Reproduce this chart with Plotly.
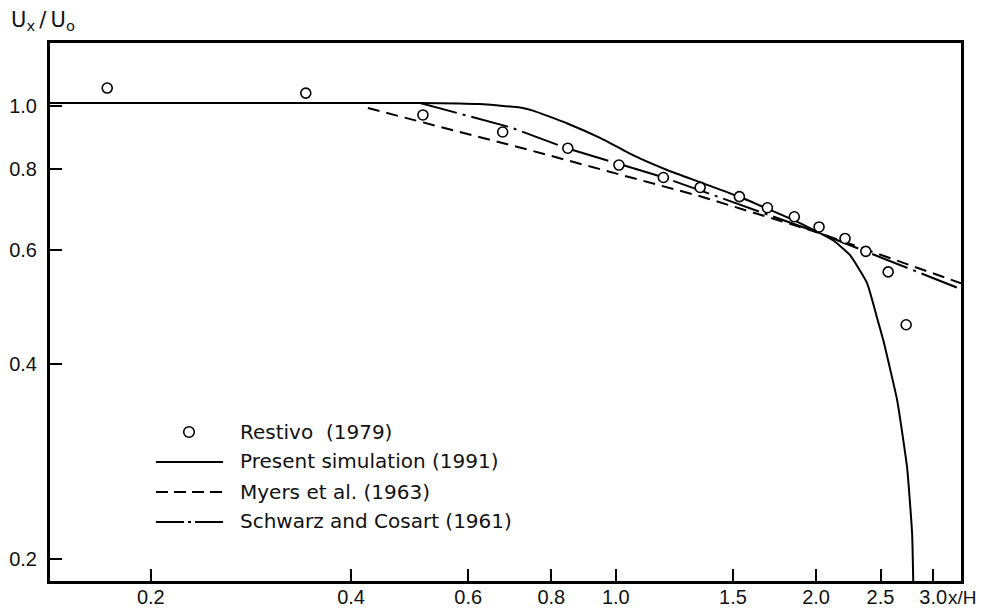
import plotly.graph_objects as go
import math

# ---- data ----
restivo_x = [0.172, 0.342, 0.513, 0.676, 0.847, 1.011, 1.179, 1.339, 1.534, 1.690, 1.855, 2.021, 2.211, 2.376, 2.567, 2.732]
restivo_y = [1.066, 1.047, 0.969, 0.912, 0.861, 0.811, 0.776, 0.749, 0.725, 0.697, 0.675, 0.651, 0.625, 0.597, 0.555, 0.460]

present_x = [0.141, 0.508, 0.625, 0.718, 0.751, 0.844, 0.947, 1.061, 1.194, 1.339, 1.537, 1.892, 2.121, 2.250, 2.387, 2.471, 2.523, 2.648, 2.741, 2.789, 2.801]
present_y = [1.011, 1.011, 1.007, 0.995, 0.984, 0.941, 0.893, 0.840, 0.797, 0.763, 0.724, 0.660, 0.621, 0.589, 0.533, 0.471, 0.436, 0.352, 0.277, 0.219, 0.180]

myers_x = [0.424, 0.743, 1.339, 2.007, 3.304]
myers_y = [0.993, 0.855, 0.726, 0.639, 0.533]

schwarz_x = [0.508, 0.693, 0.844, 1.177, 2.007, 3.304]
schwarz_y = [1.011, 0.928, 0.861, 0.777, 0.639, 0.522]

x_ticks = [0.2, 0.4, 0.6, 0.8, 1.0, 1.5, 2.0, 2.5, 3.0]
x_ticktext = ["0.2", "0.4", "0.6", "0.8", "1.0", "1.5", "2.0", "2.5", "3.0"]
y_ticks = [0.2, 0.4, 0.6, 0.8, 1.0]
y_ticktext = ["0.2", "0.4", "0.6", "0.8", "1.0"]

legend_labels = ["Restivo  (1979)", "Present simulation (1991)", "Myers et al. (1963)", "Schwarz and Cosart (1961)"]

# ---- figure ----
W, H = 981, 612
ML, MR, MT, MB = 50, 20, 43, 31
PW, PH = W - ML - MR, H - MT - MB

def px(x):
    return (x - ML) / PW

def py(y):
    return (H - MB - y) / PH

fig = go.Figure()
fig.add_trace(go.Scatter(x=present_x, y=present_y, mode="lines",
                         line=dict(color="black", width=2, shape="spline", smoothing=0.4),
                         showlegend=False))
fig.add_trace(go.Scatter(x=myers_x, y=myers_y, mode="lines",
                         line=dict(color="black", width=2, dash="12px,7px"),
                         showlegend=False))
fig.add_trace(go.Scatter(x=schwarz_x, y=schwarz_y, mode="lines",
                         line=dict(color="black", width=2, dash="38px,6px,3px,6px"),
                         showlegend=False))
fig.add_trace(go.Scatter(x=restivo_x, y=restivo_y, mode="markers",
                         marker=dict(symbol="circle", size=10, color="white",
                                     line=dict(color="black", width=1.6)),
                         showlegend=False))

axis_common = dict(showgrid=False, zeroline=False, showline=True, linecolor="black",
                   linewidth=3, mirror=True, ticks="inside", ticklen=12, tickwidth=2,
                   tickcolor="black", automargin=False,
                   tickfont=dict(family="Liberation Sans, Arial, sans-serif", size=20, color="#111"))

fig.update_xaxes(type="log", range=[math.log10(0.1411), math.log10(3.303)],
                 tickvals=x_ticks, ticktext=x_ticktext, ticklabelstandoff=-4, **axis_common)
fig.update_yaxes(type="log", range=[math.log10(0.1852), math.log10(1.251)],
                 tickvals=y_ticks, ticktext=y_ticktext, ticklabelstandoff=6, **axis_common)

shapes = []
# legend samples
cx, cy, r = 189, 432, 5.3
shapes.append(dict(type="circle", xref="paper", yref="paper",
                   x0=px(cx - r), x1=px(cx + r), y0=py(cy + r), y1=py(cy - r),
                   line=dict(color="black", width=1.6), fillcolor="white"))
for yy, dash in [(462, "solid"), (492, "12px,6px"), (522, "28px,4px,3px,4px")]:
    shapes.append(dict(type="line", xref="paper", yref="paper",
                       x0=px(156), x1=px(223), y0=py(yy), y1=py(yy),
                       line=dict(color="black", width=2, dash=dash)))

annotations = []
for lab, yy in zip(legend_labels, [432, 461, 492, 521]):
    annotations.append(dict(text=lab, xref="paper", yref="paper", x=px(238), y=py(yy),
                            xanchor="left", yanchor="middle", showarrow=False,
                            font=dict(family="DejaVu Sans, sans-serif", size=20, color="#111")))
annotations.append(dict(text="U<sub>x</sub>\u2009/\u2009U<sub>o</sub>", xref="paper", yref="paper",
                        x=px(9), y=py(21), xanchor="left", yanchor="middle", showarrow=False,
                        font=dict(family="DejaVu Sans, sans-serif", size=21, color="#111")))
annotations.append(dict(text="x/H", xref="paper", yref="paper",
                        x=px(979), y=py(597), xanchor="right", yanchor="middle", showarrow=False,
                        font=dict(family="Liberation Sans, Arial, sans-serif", size=19, color="#111")))

fig.update_layout(width=W, height=H, margin=dict(l=ML, r=MR, t=MT, b=MB),
                  paper_bgcolor="white", plot_bgcolor="white",
                  shapes=shapes, annotations=annotations, showlegend=False)

fig.write_html("out.html")
